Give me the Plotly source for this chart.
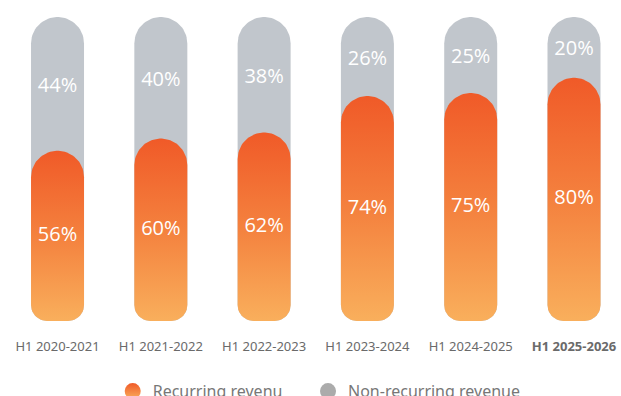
import numpy as np
import plotly.graph_objects as go

categories = ["H1 2020-2021", "H1 2021-2022", "H1 2022-2023", "H1 2023-2024", "H1 2024-2025", "H1 2025-2026"]
recurring = [56, 60, 62, 74, 75, 80]
non_recurring = [44, 40, 38, 26, 25, 20]
tick_labels = categories[:-1] + ["<b>" + categories[-1] + "</b>"]

W, H = 621, 396
ML, MR, MT, MB = 0, 0, 17, 75
XR = [-0.557, 5.455]
YR = [0, 100]
px_x = (W - ML - MR) / (XR[1] - XR[0])
px_y = (H - MT - MB) / (YR[1] - YR[0])

BAR_PX = 53
TOP_R = 26.5
BOT_R = 16
GRAY = "#C1C6CC"
LABEL_DROP_PX = 3


def pill(xc, y0, y1):
    hw = BAR_PX / 2 / px_x
    rty = TOP_R / px_y
    rbx, rby = BOT_R / px_x, BOT_R / px_y
    xs, ys = [], []
    t = np.linspace(np.pi, 1.5 * np.pi, 12)
    xs += list(xc - hw + rbx + rbx * np.cos(t)); ys += list(y0 + rby + rby * np.sin(t))
    t = np.linspace(1.5 * np.pi, 2 * np.pi, 12)
    xs += list(xc + hw - rbx + rbx * np.cos(t)); ys += list(y0 + rby + rby * np.sin(t))
    t = np.linspace(0, np.pi, 40)
    xs += list(xc + hw * np.cos(t)); ys += list(y1 - rty + rty * np.sin(t))
    xs.append(xs[0]); ys.append(ys[0])
    return xs, ys


fig = go.Figure()
for i in range(len(categories)):
    gx, gy = pill(i, 0, recurring[i] + non_recurring[i])
    fig.add_trace(go.Scatter(x=gx, y=gy, mode="lines", fill="toself", fillcolor=GRAY,
                             line=dict(width=0), showlegend=False, hoverinfo="skip"))
for i in range(len(categories)):
    ox, oy = pill(i, 0, recurring[i])
    fig.add_trace(go.Scatter(x=ox, y=oy, mode="lines", fill="toself",
                             fillgradient=dict(type="vertical",
                                               colorscale=[[0, "#F9AF5C"], [0.5, "#F4813E"], [1, "#F05A28"]]),
                             line=dict(width=0), showlegend=False, hoverinfo="skip"))

xs = list(range(len(categories)))
pct_font = dict(color="white", size=20, family="Open Sans")
drop = LABEL_DROP_PX / px_y
fig.add_trace(go.Scatter(x=xs, y=[r / 2 for r in recurring], mode="text",
                         text=[f"{v}%" for v in recurring], textfont=pct_font,
                         showlegend=False, hoverinfo="skip"))
fig.add_trace(go.Scatter(x=xs, y=[r + n / 2 - drop for r, n in zip(recurring, non_recurring)], mode="text",
                         text=[f"{v}%" for v in non_recurring], textfont=pct_font,
                         showlegend=False, hoverinfo="skip"))

fig.add_trace(go.Scatter(x=[None], y=[None], mode="markers", name="Recurring revenu", legend="legend",
                         marker=dict(symbol="circle", size=20, color="#F05A28",
                                     gradient=dict(type="vertical", color="#F9AF5C"))))
fig.add_trace(go.Scatter(x=[None], y=[None], mode="markers", name="Non-recurring revenue", legend="legend2",
                         marker=dict(symbol="circle", size=20, color="#ABABAB")))

leg_common = dict(orientation="h", xanchor="left", y=-0.175, yanchor="top",
                  font=dict(size=16, color="#777777"), itemsizing="trace", bgcolor="rgba(0,0,0,0)")
fig.update_layout(
    width=W, height=H, margin=dict(l=ML, r=MR, t=MT, b=MB, autoexpand=False),
    paper_bgcolor="white", plot_bgcolor="white",
    font=dict(family="Noto Sans", color="#666666"),
    xaxis=dict(range=XR, tickmode="array", tickvals=xs, ticktext=tick_labels,
               showgrid=False, zeroline=False, showline=False, ticks="",
               tickfont=dict(size=13, color="#6A6A6A"), ticklabelstandoff=16, fixedrange=True),
    yaxis=dict(range=YR, visible=False, fixedrange=True),
    legend=dict(x=0.1815, **leg_common),
    legend2=dict(x=0.496, **leg_common),
    showlegend=True,
)
fig.write_html("out.html")
